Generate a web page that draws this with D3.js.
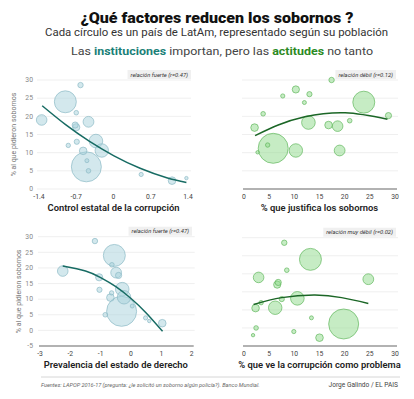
<!DOCTYPE html>
<html>
<head>
<meta charset="utf-8">
<script src="https://cdn.jsdelivr.net/npm/d3@7"></script>
<style>
body { margin: 0; background: #fff; }
text { font-family: Roboto, "Open Sans", sans-serif; }
</style>
</head>
<body>
<svg id="chart" width="414" height="399"></svg>
<script>
// tamaño de cada círculo: población (millones)
const poblacion = [112, 6.8, 4.9, 26, 27, 8.9, 12, 43, 6.3, 4.5, 42, 13.4, 209, 3.7, 4.9, 4.1, 13.4, 2.7];
// % al que pidieron sobornos
const sobornos = [24.0, 28.6, 21.0, 19.0, 18.5, 17.6, 17.0, 13.2, 13.0, 12.0, 10.6, 10.5, 6.1, 7.8, 5.0, 4.0, 2.3, 3.0];
// eje x de cada panel
const controlCorrupcion = [-0.905, -0.62, -0.70, -1.35, -0.47, -0.72, -0.70, -0.33, -0.69, -0.85, -0.22, -0.57, -0.51, -0.50, -0.47, 0.52, 1.10, 1.37];
const justifica = [23.8, 17.4, 21.0, 18.6, 19.0, 28.7, 10.3, 12.8, 13.0, 4.7, 10.3, 2.1, 5.8, 12.0, 3.8, 7.7, 16.8, 2.7];
const justificaY = [23.9, 30.0, 18.8, 17.3, 10.6, 20.2, 27.4, 18.3, 26.1, 12.1, 10.6, 16.9, 11.2, 23.8, 20.7, 25.6, 17.6, 10.1];
const estadoDerecho = [-0.55, -1.19, -0.63, -2.25, -0.49, -0.41, -1.05, -0.29, -1.04, -0.64, -0.23, -0.68, -0.31, 0.04, -0.85, 0.48, 1.03, 0.60];
const veProblema = [13.2, 8.0, 8.5, 2.9, 24.7, 6.8, 6.6, 10.6, 7.5, 3.4, 6.2, 2.3, 19.8, 13.4, 2.4, 9.9, 15.0, 1.8];

// líneas de tendencia
const tend1 = [[-1.34, 22.9], [-0.9, 17.7], [-0.45, 13.1], [0, 9.2], [0.5, 5.7], [1.0, 3.1], [1.37, 1.8]];
const tend2 = [[2.2, 14.7], [6.8, 17.6], [12.1, 19.9], [20.1, 21.0], [28.5, 19.2]];
const tend3 = [[-2.25, 20.6], [-1.5, 19.0], [-1, 16.9], [-0.5, 14.0], [0, 10.2], [0.5, 5.6], [1.04, -0.3]];
const tend4 = [[1.9, 11.5], [7.5, 13.4], [14.1, 14.1], [19.4, 13.4], [24.7, 11.8]];

const ticks1 = [-1.4, -0.7, 0, 0.7, 1.4];
const ticks3 = [-3, -2, -1, 0, 1, 2];
const ticks30 = [0, 5, 10, 15, 20, 25, 30];

const svg = d3.select("#chart");
const rScale = d3.scaleSqrt().domain([0, 209]).range([0, 15]);

const azul = { fill: "#a8d2dc", stroke: "#8dbac6", line: "#176b63" };
const verde = { fill: "#8ed98a", stroke: "#63b85e", line: "#1b6626" };

const paneles = [
  { xs: controlCorrupcion, ys: sobornos, tend: tend1, xDom: [-1.4, 1.4], xTicks: ticks1,
    yDom: [0, 30], yTicks: ticks30, x0: 39, x1: 188, y0: 189, y1: 80, col: azul,
    yLabels: true, axis: false, yTitleX: 16, nota: "relación fuerte (r=0.47)", notaR: 191,
    titulo: "Control estatal de la corrupción", tituloY: 211 },
  { xs: justifica, ys: justificaY, tend: tend2, xDom: [0, 30], xTicks: ticks30,
    yDom: [0, 30], yTicks: ticks30, x0: 244, x1: 395, y0: 189, y1: 80, col: verde,
    yLabels: false, axis: true, nota: "relación débil (r=0.12)", notaR: 396,
    titulo: "% que justifica los sobornos", tituloY: 211 },
  { xs: estadoDerecho, ys: sobornos, tend: tend3, xDom: [-3, 2], xTicks: ticks3,
    yDom: [-5, 30], yTicks: [-5, 0, 5, 10, 15, 20, 25, 30], x0: 40, x1: 191.7, y0: 346, y1: 236.7, col: azul,
    yLabels: true, axis: true, yTitleX: 21, nota: "relación fuerte (r=0.47)", notaR: 192,
    titulo: "Prevalencia del estado de derecho", tituloY: 368 },
  { xs: veProblema, ys: sobornos, tend: tend4, xDom: [0, 30], xTicks: ticks30,
    yDom: [0, 30], yTicks: ticks30, x0: 244, x1: 395, y0: 346, y1: 237.7, col: verde,
    yLabels: false, axis: true, nota: "relación muy débil (r=0.02)", notaR: 396,
    titulo: "% que ve la corrupción como problema", tituloY: 368 }
];

paneles.forEach(p => {
  const g = svg.append("g");
  const x = d3.scaleLinear().domain(p.xDom).range([p.x0, p.x1]);
  const y = d3.scaleLinear().domain(p.yDom).range([p.y0, p.y1]);

  // rejilla
  g.selectAll(".grid").data(p.yTicks.filter(t => !(p.axis && t === p.yDom[0])))
    .enter().append("line")
    .attr("x1", p.x0 - 2).attr("x2", p.x1 + 3)
    .attr("y1", d => y(d)).attr("y2", d => y(d))
    .attr("stroke", "#ebebeb").attr("stroke-width", 0.8);

  if (p.axis) {
    g.append("line")
      .attr("x1", p.x0 - 1).attr("x2", p.x1 + 2)
      .attr("y1", y(p.yDom[0])).attr("y2", y(p.yDom[0]))
      .attr("stroke", "#666").attr("stroke-width", 1.1);
  }

  if (p.yLabels) {
    g.selectAll(".yt").data(p.yTicks).enter().append("text")
      .attr("x", 33).attr("y", d => y(d) + 2.3)
      .attr("text-anchor", "end")
      .attr("font-size", 6.8).attr("fill", "#888")
      .text(d => d);
    g.append("text")
      .attr("transform", `translate(${p.yTitleX},${(p.y0 + p.y1) / 2}) rotate(-90)`)
      .attr("text-anchor", "middle")
      .attr("font-size", 7).attr("fill", "#777")
      .text("% al que pidieron sobornos");
  }

  g.selectAll(".xt").data(p.xTicks).enter().append("text")
    .attr("x", d => x(d)).attr("y", p.y0 + 9.5)
    .attr("text-anchor", "middle")
    .attr("font-size", 6.8).attr("fill", "#444")
    .text(d => String(d));

  g.append("text")
    .attr("x", (p.x0 + p.x1) / 2).attr("y", p.tituloY)
    .attr("text-anchor", "middle")
    .attr("font-size", 9.4).attr("font-weight", 600).attr("fill", "#222")
    .text(p.titulo);

  // círculos, los grandes primero
  const pts = p.xs.map((v, i) => ({ x: v, y: p.ys[i], pop: poblacion[i] }))
    .sort((a, b) => b.pop - a.pop);
  g.selectAll("circle").data(pts).enter().append("circle")
    .attr("cx", d => x(d.x)).attr("cy", d => y(d.y))
    .attr("r", d => rScale(d.pop))
    .attr("fill", p.col.fill).attr("fill-opacity", 0.5)
    .attr("stroke", p.col.stroke).attr("stroke-width", 0.7);

  const line = d3.line().x(d => x(d[0])).y(d => y(d[1])).curve(d3.curveNatural);
  g.append("path").datum(p.tend)
    .attr("d", line).attr("fill", "none")
    .attr("stroke", p.col.line).attr("stroke-width", 1.5);

  // nota de correlación
  const nt = g.append("text")
    .attr("x", p.notaR - 3).attr("y", p.y1 - 3.5)
    .attr("text-anchor", "end")
    .attr("font-size", 5.8).attr("font-style", "italic").attr("fill", "#333")
    .text(p.nota);
  const w = nt.node().getComputedTextLength();
  g.insert("rect", "text")
    .attr("x", p.notaR - w - 6).attr("y", p.y1 - 10)
    .attr("width", w + 6).attr("height", 9)
    .attr("fill", "#f0f0f0");
});

// títulos
svg.append("text").attr("x", 217).attr("y", 22.5)
  .attr("text-anchor", "middle").attr("font-size", 14.5).attr("font-weight", 900).attr("fill", "#111")
  .attr("textLength", 273).attr("lengthAdjust", "spacingAndGlyphs")
  .text("¿Qué factores reducen los sobornos ?");
svg.append("text").attr("x", 216.5).attr("y", 36)
  .attr("text-anchor", "middle").attr("font-size", 10.8).attr("fill", "#333")
  .attr("textLength", 343).attr("lengthAdjust", "spacingAndGlyphs")
  .text("Cada círculo es un país de LatAm, representado según su población");
const sub = svg.append("text").attr("x", 222).attr("y", 55)
  .attr("text-anchor", "middle").attr("font-size", 11.5).attr("fill", "#444")
  .attr("textLength", 302).attr("lengthAdjust", "spacingAndGlyphs");
sub.append("tspan").text("Las ");
sub.append("tspan").attr("font-weight", 700).attr("fill", "#1b7f78").text("instituciones");
sub.append("tspan").text(" importan, pero las ");
sub.append("tspan").attr("font-weight", 700).attr("fill", "#2c8a24").text("actitudes");
sub.append("tspan").text(" no tanto");

// pie
svg.append("line").attr("x1", 41).attr("x2", 400).attr("y1", 377).attr("y2", 377)
  .attr("stroke", "#ccc").attr("stroke-width", 0.8);
svg.append("text").attr("x", 41).attr("y", 387)
  .attr("font-size", 5.6).attr("font-style", "italic").attr("fill", "#666")
  .text("Fuentes: LAPOP 2016-17 (pregunta: ¿le solicitó un soborno algún policía?). Banco Mundial.");
svg.append("text").attr("x", 398).attr("y", 387)
  .attr("text-anchor", "end").attr("font-size", 6.6).attr("fill", "#444")
  .text("Jorge Galindo / EL PAIS");
</script>
</body>
</html>
